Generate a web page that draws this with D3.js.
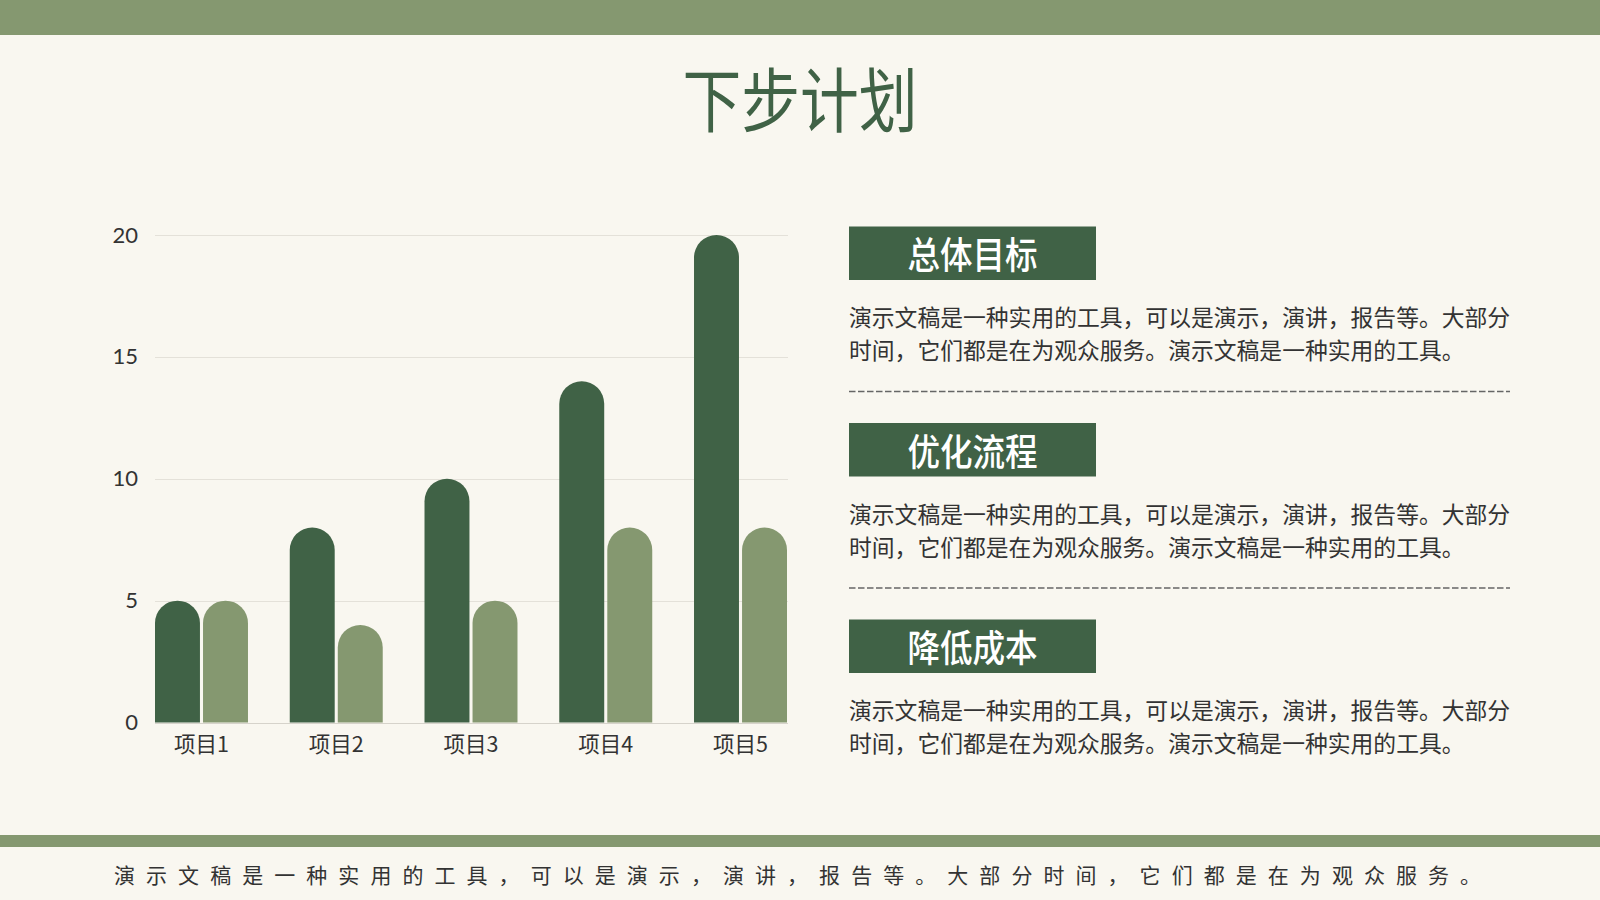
<!DOCTYPE html>
<html>
<head>
<meta charset="utf-8">
<script src="https://cdn.jsdelivr.net/npm/d3@7"></script>
<style>
  body { margin: 0; background: #f9f7f0; }
  svg { display: block; }
</style>
</head>
<body>
<script>
var categories = ['项目1', '项目2', '项目3', '项目4', '项目5'];
var seriesA = [5, 8, 10, 14, 20];
var seriesB = [5, 4, 5, 8, 8];
var yTicks = [0, 5, 10, 15, 20];

var sectionTitles = ['总体目标', '优化流程', '降低成本'];
var paraLines = ['演示文稿是一种实用的工具，可以是演示，演讲，报告等。大部分',
  '时间，它们都是在为观众服务。演示文稿是一种实用的工具。'];
var footerText = '演示文稿是一种实用的工具，可以是演示，演讲，报告等。大部分时间，它们都是在为观众服务。';

var width = 1600;
var height = 900;
var dark = '#406246';
var light = '#859870';
var cjk = '"Noto Sans CJK SC", "Noto Sans", sans-serif';

var svg = d3.select('body').append('svg')
  .attr('width', width)
  .attr('height', height);

svg.append('rect').attr('width', width).attr('height', height).attr('fill', '#f9f7f0');

// bands top and bottom
svg.append('rect').attr('x', 0).attr('y', 0).attr('width', width).attr('height', 35).attr('fill', light);
svg.append('rect').attr('x', 0).attr('y', 835).attr('width', width).attr('height', 12).attr('fill', light);

// title, condensed and thin-ish
svg.append('text')
  .attr('transform', 'translate(800,97) scale(0.84,1)')
  .attr('text-anchor', 'middle')
  .attr('dominant-baseline', 'central')
  .attr('font-family', cjk)
  .attr('font-weight', 400)
  .attr('font-size', 70)
  .attr('fill', dark)
  .text('下步计划');

// chart
var x0 = d3.scaleBand().domain(categories).range([155, 787]).paddingInner(0.31).paddingOuter(0);
var x1 = d3.scaleBand().domain([0, 1]).range([0, x0.bandwidth()]).paddingInner(0.064);
var y = d3.scaleLinear().domain([0, 20]).range([722.5, 235]);

var grid = svg.append('g');
grid.selectAll('line').data(yTicks).enter().append('line')
  .attr('x1', 155).attr('x2', 788)
  .attr('y1', function(d) { return Math.round(y(d)) + 0.5; })
  .attr('y2', function(d) { return Math.round(y(d)) + 0.5; })
  .attr('stroke', function(d) { return d === 0 ? '#d6d3cb' : '#e4e1d9'; })
  .attr('stroke-width', 1);

var yAxis = d3.axisLeft(y).tickValues(yTicks).tickSize(0).tickPadding(0);
var yg = svg.append('g').attr('transform', 'translate(138,0)').call(yAxis);
yg.select('.domain').remove();
yg.selectAll('text')
  .attr('font-family', 'Lato, "Noto Sans", sans-serif')
  .attr('font-size', 22)
  .attr('fill', '#333');

var xAxis = d3.axisBottom(x0).tickSize(0).tickPadding(0);
var xg = svg.append('g').attr('transform', 'translate(0,737)').call(xAxis);
xg.select('.domain').remove();
xg.selectAll('text')
  .attr('font-family', cjk)
  .attr('font-size', 21.5)
  .attr('fill', '#333');

function roundTop(x, w, yTop, yBase) {
  var r = w / 2;
  return 'M' + x + ',' + yBase +
    'V' + (yTop + r) +
    'A' + r + ',' + r + ' 0 0 1 ' + (x + w) + ',' + (yTop + r) +
    'V' + yBase + 'Z';
}

var groups = svg.append('g').selectAll('g').data(categories).enter().append('g')
  .attr('transform', function(d) { return 'translate(' + x0(d) + ',0)'; });

groups.append('path')
  .attr('d', function(d, i) { return roundTop(x1(0), x1.bandwidth(), y(seriesA[i]), y(0)); })
  .attr('fill', dark);
groups.append('path')
  .attr('d', function(d, i) { return roundTop(x1(1), x1.bandwidth(), y(seriesB[i]), y(0)); })
  .attr('fill', light);

// right side sections
var sec = svg.append('g').selectAll('g').data(sectionTitles).enter().append('g')
  .attr('transform', function(d, i) { return 'translate(849,' + (226.5 + i * 196.5) + ')'; });

sec.append('rect')
  .attr('width', 247).attr('height', 53.5)
  .attr('fill', dark);

sec.append('text')
  .attr('transform', 'translate(123.5,27) scale(0.88,1)')
  .attr('text-anchor', 'middle')
  .attr('dominant-baseline', 'central')
  .attr('font-family', cjk)
  .attr('font-weight', 500)
  .attr('font-size', 37)
  .attr('fill', '#fff')
  .text(function(d) { return d; });

paraLines.forEach(function(line, j) {
  sec.append('text')
    .attr('x', 0)
    .attr('y', 90 + j * 33)
    .attr('dominant-baseline', 'central')
    .attr('font-family', cjk)
    .attr('font-size', 22.8)
    .attr('fill', '#333')
    .text(line);
});

sec.filter(function(d, i) { return i < 2; }).append('line')
  .attr('x1', 0).attr('x2', 661)
  .attr('y1', 165).attr('y2', 165)
  .attr('stroke', '#666')
  .attr('stroke-width', 1.5)
  .attr('stroke-dasharray', '6.5,2.5');

// footer text
svg.append('text')
  .attr('x', 114)
  .attr('y', 873.5)
  .attr('dominant-baseline', 'central')
  .attr('font-family', cjk)
  .attr('font-size', 21)
  .attr('letter-spacing', 11.05)
  .attr('fill', '#333')
  .text(footerText);
</script>
</body>
</html>
